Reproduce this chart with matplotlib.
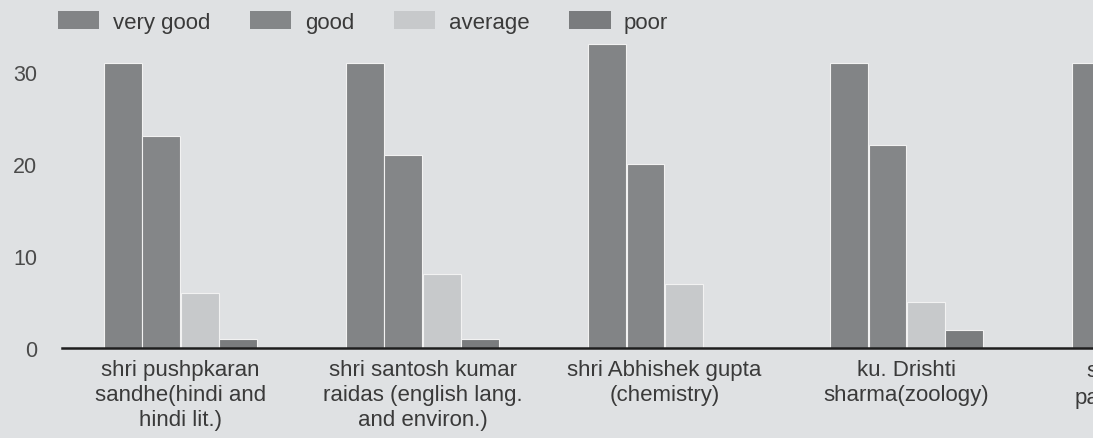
import numpy as np
import matplotlib.pyplot as plt
from matplotlib.patches import Patch

plt.rcParams["font.family"] = ["Liberation Sans", "DejaVu Sans"]

teachers = [
    "shri pushpkaran\nsandhe(hindi and\nhindi lit.)",
    "shri santosh kumar\nraidas (english lang.\nand environ.)",
    "shri Abhishek gupta\n(chemistry)",
    "ku. Drishti\nsharma(zoology)",
]
# fifth group is only partly on the page
very_good = [31, 31, 33, 31, 31]
good = [23, 21, 20, 22, np.nan]
average = [6, 8, 7, 5, np.nan]
poor = [1, 1, 0, 2, np.nan]

ratings = ["very good", "good", "average", "poor"]
colors = ["#828486", "#848688", "#c7c9cb", "#7a7c7e"]
bg = "#dfe1e3"
ink = "#3a3a3a"

fig = plt.figure(figsize=(10.93, 4.39), dpi=100, facecolor=bg)
ax = fig.add_axes([62 / 1093, 1 - 349 / 439, 1 - 62 / 1093, 349 / 439])
ax.set_facecolor(bg)

x = np.arange(len(very_good))
step = 0.159
width = 0.156
for k, vals in enumerate([very_good, good, average, poor]):
    ax.bar(x + (k - 1.5) * step, vals, width, color=colors[k],
           edgecolor="#f2f2f2", linewidth=0.8)

ax.set_xlim(-0.49, 3.77)
ax.set_ylim(0, 37.9)
ax.set_yticks([0, 10, 20, 30])
ax.set_xticks(x[:len(teachers)])
ax.set_xticklabels(teachers, fontsize=16, color=ink, linespacing=1.25)
ax.tick_params(axis="x", length=0, pad=8)
ax.tick_params(axis="y", length=0, pad=18, labelsize=15.5, labelcolor="#4a4a4a")

for side in ["top", "right", "left"]:
    ax.spines[side].set_visible(False)
ax.spines["bottom"].set_color("#1e1e1e")
ax.spines["bottom"].set_linewidth(1.8)

# start of the cut-off fifth label
ax.text(3.744, -1.3, "s", fontsize=16, color=ink, ha="left", va="top")
ax.text(3.694, -4.2, "pa", fontsize=16, color=ink, ha="left", va="top")

handles = [Patch(facecolor=c, edgecolor="none") for c in colors]
fig.legend(handles, ratings, loc="upper left",
           bbox_to_anchor=(58 / 1093, 1 - 12 / 439), ncol=4, frameon=False,
           fontsize=16, labelcolor=ink, handlelength=1.86, handleheight=0.86,
           handletextpad=0.6, columnspacing=1.8, borderpad=0, borderaxespad=0)

fig.savefig("out.png", dpi=100, facecolor=bg)
